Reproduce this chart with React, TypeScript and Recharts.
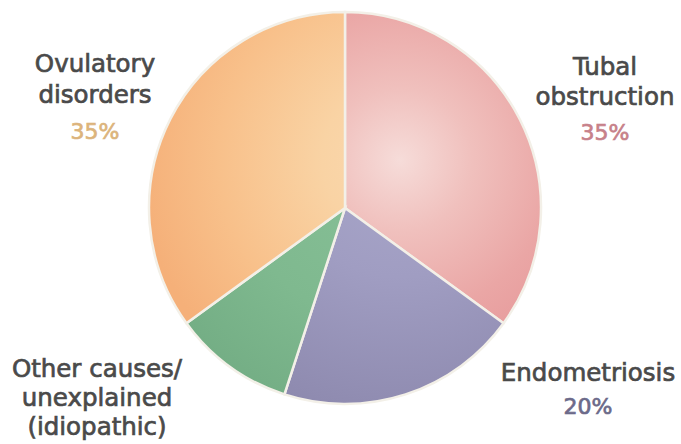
import React from "react";
import { PieChart, Pie, Cell } from "recharts";

// ---- data ----
const causes = ["Tubal obstruction", "Endometriosis", "Other causes/unexplained (idiopathic)", "Ovulatory disorders"];
const shares = [35, 20, 10, 35];
const labelLines = [
  ["Tubal", "obstruction"],
  ["Endometriosis"],
  ["Other causes/", "unexplained", "(idiopathic)"],
  ["Ovulatory", "disorders"],
];
const showPercent = [true, true, false, true];

// ---- styles / layout ----
const gradientIds = ["gTubal", "gEndo", "gOther", "gOvul"];
const pctColors = ["#c7818a", "#6c6a8a", "#777", "#dcb47c"];
// label anchor offsets from pie centre (first baseline), line heights
const labelLayout = [
  { dx: 260, dy: -133, lh: 30, pctGap: 35 },
  { dx: 243, dy: 173, lh: 33, pctGap: 33 },
  { dx: -248, dy: 169, lh: 29, pctGap: 30 },
  { dx: -250, dy: -136, lh: 31, pctGap: 36 },
];

const data = causes.map((name, i) => ({ name, value: shares[i] }));

const CX = 345;
const CY = 208;
const R = 196;

const FONT = "DejaVu Sans, sans-serif";

const renderLabel = (props: any) => {
  const { index, cx, cy, value } = props;
  const L = labelLayout[index];
  const x = cx + L.dx;
  const y0 = cy + L.dy;
  const lines = labelLines[index];
  const lastY = y0 + (lines.length - 1) * L.lh;
  return (
    <g key={`lbl-${index}`}>
      {lines.map((t, k) => (
        <text
          key={k}
          x={x}
          y={y0 + k * L.lh}
          textAnchor="middle"
          fill="#4a4a4a"
          stroke="#4a4a4a"
          strokeWidth={0.7}
          fontSize={24.5}
          fontFamily={FONT}
        >
          {t}
        </text>
      ))}
      {showPercent[index] && (
        <text
          x={x}
          y={lastY + L.pctGap}
          textAnchor="middle"
          fill={pctColors[index]}
          stroke={pctColors[index]}
          strokeWidth={0.7}
          fontSize={22}
          fontFamily={FONT}
        >
          {`${value}%`}
        </text>
      )}
    </g>
  );
};

export default function App() {
  return (
    <div style={{ position: "absolute", left: 0, top: 0, width: 681, height: 444, background: "#fff" }}>
      <PieChart width={681} height={444} margin={{ top: 0, right: 0, bottom: 0, left: 0 }}>
        <defs>
          <radialGradient id="gTubal" gradientUnits="userSpaceOnUse" cx={400} cy={160} r={240}>
            <stop offset="0" stopColor="#f6dcd9" />
            <stop offset="0.3" stopColor="#f0c0bd" />
            <stop offset="0.65" stopColor="#eaa6a5" />
            <stop offset="1" stopColor="#e59597" />
          </radialGradient>
          <radialGradient id="gOvul" gradientUnits="userSpaceOnUse" cx={400} cy={160} r={260}>
            <stop offset="0" stopColor="#fad9b0" />
            <stop offset="0.3" stopColor="#f9d3a4" />
            <stop offset="0.7" stopColor="#f8c08a" />
            <stop offset="1" stopColor="#f5b079" />
          </radialGradient>
          <radialGradient id="gEndo" gradientUnits="userSpaceOnUse" cx={400} cy={160} r={260}>
            <stop offset="0" stopColor="#a9a7ca" />
            <stop offset="0.45" stopColor="#a09dc2" />
            <stop offset="1" stopColor="#8e8aaf" />
          </radialGradient>
          <radialGradient id="gOther" gradientUnits="userSpaceOnUse" cx={400} cy={160} r={280}>
            <stop offset="0" stopColor="#88c198" />
            <stop offset="0.6" stopColor="#7fb98f" />
            <stop offset="1" stopColor="#73ad84" />
          </radialGradient>
        </defs>
        <Pie
          data={data}
          dataKey="value"
          nameKey="name"
          cx={CX}
          cy={CY}
          outerRadius={R}
          innerRadius={0}
          startAngle={90}
          endAngle={-270}
          stroke="#f3f0e8"
          strokeWidth={2.5}
          label={renderLabel}
          labelLine={false}
          isAnimationActive={false}
        >
          {data.map((d, i) => (
            <Cell key={d.name} fill={`url(#${gradientIds[i]})`} />
          ))}
        </Pie>
      </PieChart>
    </div>
  );
}
